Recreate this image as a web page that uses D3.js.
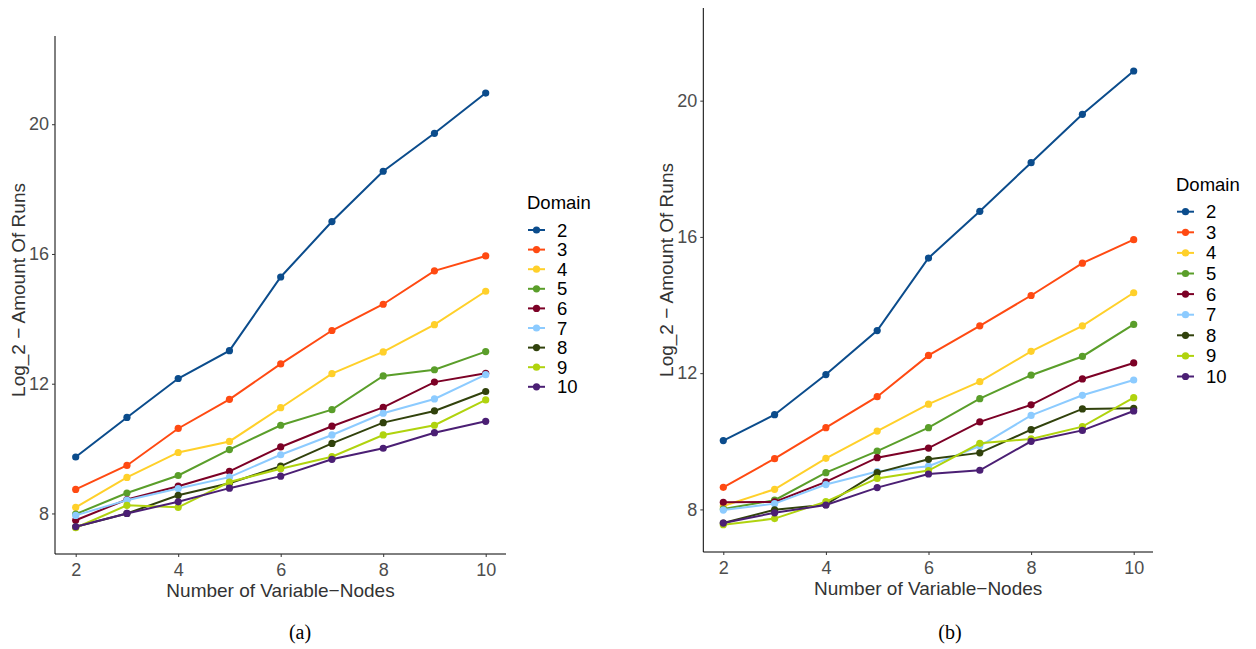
<!DOCTYPE html>
<html>
<head>
<meta charset="utf-8">
<script src="https://cdn.jsdelivr.net/npm/d3@7"></script>
<style>
body { margin:0; background:#fff; }
svg text { font-family: "Liberation Sans", Arial, sans-serif; }
.caption { font-family: "Liberation Serif", "DejaVu Serif", serif !important; }
</style>
</head>
<body>
<svg id="chart" width="1256" height="649"></svg>
<script>
// data
var nodes = [2, 3, 4, 5, 6, 7, 8, 9, 10];
var domains = ["2", "3", "4", "5", "6", "7", "8", "9", "10"];
var colors = ["#0b4c8c", "#ff4a12", "#ffd02a", "#5a9e2a", "#7c0126", "#8ccbff", "#31420c", "#b0d30e", "#4b1f74"];
var yTicks = [8, 12, 16, 20];
var xTicks = [2, 4, 6, 8, 10];

// panel (a): one row per domain, values over nodes 2..10
var runsA = [
  [9.74, 10.96, 12.16, 13.02, 15.29, 17.0, 18.55, 19.72, 20.96],
  [8.74, 9.48, 10.62, 11.52, 12.61, 13.64, 14.45, 15.48, 15.94],
  [8.19, 9.11, 9.88, 10.22, 11.26, 12.31, 12.98, 13.82, 14.85],
  [7.98, 8.63, 9.17, 9.97, 10.72, 11.2, 12.24, 12.43, 12.99],
  [7.79, 8.43, 8.84, 9.3, 10.05, 10.69, 11.27, 12.05, 12.32],
  [7.94, 8.41, 8.77, 9.12, 9.81, 10.42, 11.09, 11.53, 12.28],
  [7.59, 8.0, 8.56, 8.93, 9.46, 10.16, 10.8, 11.16, 11.76],
  [7.56, 8.25, 8.19, 8.97, 9.38, 9.75, 10.42, 10.72, 11.5],
  [7.59, 8.0, 8.36, 8.78, 9.15, 9.67, 10.01, 10.49, 10.84]
];
// panel (b)
var runsB = [
  [10.02, 10.78, 11.96, 13.25, 15.38, 16.75, 18.18, 19.6, 20.87],
  [8.65, 9.49, 10.4, 11.31, 12.52, 13.39, 14.28, 15.23, 15.92],
  [8.1, 8.59, 9.5, 10.3, 11.09, 11.75, 12.64, 13.39, 14.36],
  [8.01, 8.27, 9.08, 9.71, 10.4, 11.25, 11.94, 12.49, 13.43],
  [8.21, 8.22, 8.81, 9.52, 9.8, 10.57, 11.07, 11.83, 12.3],
  [7.98, 8.17, 8.73, 9.11, 9.27, 9.86, 10.76, 11.35, 11.8],
  [7.6, 7.99, 8.14, 9.08, 9.47, 9.66, 10.34, 10.95, 10.97],
  [7.55, 7.73, 8.23, 8.91, 9.14, 9.94, 10.07, 10.43, 11.28],
  [7.6, 7.9, 8.13, 8.64, 9.04, 9.15, 10.0, 10.32, 10.89]
];

var svg = d3.select("#chart");

var drawPanel = function(p) {
  var x = d3.scaleLinear().domain([2, 10]).range([p.x0, p.x1]);
  var y = d3.scaleLinear().domain([6.75, 22.72]).range([p.bottom, p.top]);
  var g = svg.append("g");

  // axes
  var xAxis = d3.axisBottom(x).tickValues(xTicks).tickSize(3).tickPadding(6);
  var yAxis = d3.axisLeft(y).tickValues(yTicks).tickSize(3).tickPadding(3);
  var gx = g.append("g").attr("transform", "translate(0," + p.bottom + ")").call(xAxis);
  gx.select(".domain").attr("d", "M" + p.axisLeft + ",0H" + p.axisRight).attr("stroke", "#000");
  var gy = g.append("g").attr("transform", "translate(" + p.axisLeft + ",0)").call(yAxis);
  gy.select(".domain").attr("d", "M0," + p.top + "V" + p.bottom).attr("stroke", "#000");
  g.selectAll(".tick line").attr("stroke", "#333");
  g.selectAll(".tick text").attr("fill", "#4d4d4d").style("font-size", "18px");

  var line = d3.line()
    .x(function(d, i) { return x(nodes[i]); })
    .y(function(d) { return y(d); });

  p.data.forEach(function(row, k) {
    g.append("path")
      .attr("d", line(row))
      .attr("fill", "none")
      .attr("stroke", colors[k])
      .attr("stroke-width", 2);
    g.selectAll(null)
      .data(row)
      .enter()
      .append("circle")
      .attr("cx", function(d, i) { return x(nodes[i]); })
      .attr("cy", function(d) { return y(d); })
      .attr("r", 3.6)
      .attr("fill", colors[k]);
  });

  // labels
  g.append("text")
    .text("Number of Variable\u2212Nodes")
    .attr("x", (p.axisLeft + p.axisRight) / 2)
    .attr("y", p.bottom + 43)
    .attr("text-anchor", "middle")
    .style("font-size", "19px")
    .attr("fill", "#333");
  g.append("text")
    .text("Log_2 \u2212 Amount Of Runs")
    .attr("transform", "translate(" + p.ytitleX + "," + p.ytitleY + ") rotate(-90)")
    .attr("text-anchor", "middle")
    .style("font-size", "19px")
    .attr("fill", "#333");

  // legend
  var lg = g.append("g").attr("transform", "translate(" + p.legX + "," + p.legY + ")");
  lg.append("text").text("Domain").attr("x", 0).attr("y", -21).style("font-size", "18.5px").attr("fill", "#000");
  domains.forEach(function(dm, k) {
    var yy = k * p.legStep;
    lg.append("line").attr("x1", 1).attr("x2", 18).attr("y1", yy).attr("y2", yy)
      .attr("stroke", colors[k]).attr("stroke-width", 2);
    lg.append("circle").attr("cx", 9.5).attr("cy", yy).attr("r", 3.6).attr("fill", colors[k]);
    lg.append("text").text(dm).attr("x", 30).attr("y", yy + 6.5).style("font-size", "18.5px").attr("fill", "#000");
  });

  svg.append("text")
    .attr("class", "caption")
    .text(p.caption)
    .attr("x", p.capX)
    .attr("y", 639)
    .attr("text-anchor", "middle")
    .style("font-size", "20px")
    .attr("fill", "#000");
};

drawPanel({data: runsA, x0: 75.7, x1: 485.7, axisLeft: 55, axisRight: 506, top: 36, bottom: 554,
  ytitleX: 25, ytitleY: 290, legX: 527, legY: 230, legStep: 19.6, caption: "(a)", capX: 300});
drawPanel({data: runsB, x0: 723.3, x1: 1133.7, axisLeft: 703.3, axisRight: 1153, top: 8, bottom: 552,
  ytitleX: 673, ytitleY: 270, legX: 1176, legY: 211.7, legStep: 20.6, caption: "(b)", capX: 950});
</script>
</body>
</html>
